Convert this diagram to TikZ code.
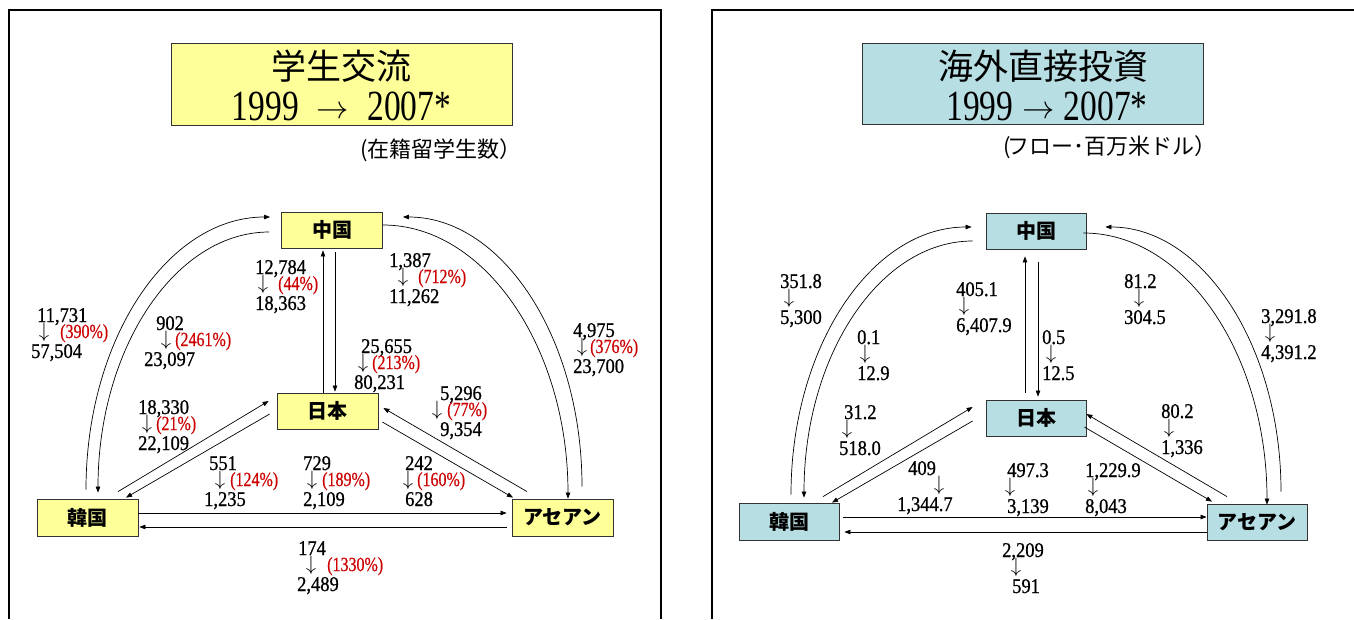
\documentclass[tikz,border=0pt]{standalone}
\usepackage{fontspec}
\usetikzlibrary{arrows.meta,calc}
\newfontfamily\jp{Noto Sans CJK JP}
\newfontfamily\numf[FakeStretch=0.88,FakeBold=0.8]{Liberation Serif}
\newfontfamily\pctf[FakeStretch=0.8,FakeBold=0.6]{Liberation Serif}
\newfontfamily\ttlf[FakeStretch=0.78]{Liberation Serif}
\definecolor{boxY}{RGB}{255,255,153}
\definecolor{boxT}{RGB}{183,222,226}
\definecolor{pctred}{RGB}{204,0,0}
% flow label with percentage
\newcommand\fl[9]{%
  \node[numtxt,anchor=base west] (#1t) at (#2,#3) {#4};
  \node[arrtxt] (#1a) at (#5,#3+10) {$\downarrow$};
  \node[pcttxt,anchor=base west] (#1p) at (#6,#3+16) {#7};
  \node[numtxt,anchor=base west] (#1b) at (#8,#3+36) {#9};
}
% flow label without percentage
\newcommand\fr[6]{%
  \node[numtxt,anchor=base west] (#1t) at (#2,#3) {#4};
  \node[arrtxt] (#1a) at (#5,#3+10.5) {$\downarrow$};
  \node[numtxt,anchor=base west] (#1b) at (#2,#3+36) {#6};
}
\newcommand\ttlarrow{\raisebox{1.5pt}{\scalebox{1.3}{$\rightarrow$}}}
\begin{document}
\begin{tikzpicture}[x=1pt,y=-1pt,
  frame/.style={line width=1.6pt,black},
  cbox/.style={draw=black!80,line width=0.8pt,minimum width=101pt,minimum height=36pt,inner sep=0pt,
     font=\jp\bfseries\fontsize{20}{24}\selectfont},
  ybox/.style={cbox,fill=boxY},
  tbox/.style={cbox,fill=boxT},
  ttlbox/.style={draw=black!80,line width=0.8pt,inner sep=0pt,minimum width=341pt,minimum height=82pt},
  ttljp/.style={inner sep=0pt,font=\jp\fontsize{35}{40}\selectfont},
  ttlnum/.style={inner sep=0pt,font=\ttlf\fontsize{43}{46}\selectfont},
  subt/.style={inner sep=0pt,font=\jp\fontsize{22}{26}\selectfont},
  arr/.style={-{Triangle[length=6pt,width=4.5pt]},line width=0.7pt},
  numtxt/.style={inner sep=0pt,font=\numf\fontsize{21}{21}\selectfont},
  pcttxt/.style={inner sep=0pt,text=pctred,font=\pctf\fontsize{20}{20}\selectfont},
  arrtxt/.style={inner sep=0pt,font=\fontsize{20.74}{20}\selectfont}]
\useasboundingbox (0,0) rectangle (1354,619);
\fill[white] (0,0) rectangle (1354,619);
% panel frames
\draw[frame] (9,619) -- (9,10) -- (661,10) -- (661,619);
\draw[frame] (712,619) -- (712,10) -- (1354,10);

% ===== left panel =====
\node[ttlbox,fill=boxY] (tL) at (341.5,84) {};
\node[ttljp] (tL1) at (341.5,66) {学生交流};
\node[ttlnum,anchor=base] (tL2) at (341.5,120) {1999\hspace{18pt}\ttlarrow\hspace{18pt}2007*};
\node[subt] (sL) at (441,150) {(在籍留学生数）};

\node[ybox] (cnL) at (332,230) {中国};
\node[ybox] (jpL) at (327.5,411) {日本};
\node[ybox,minimum height=37pt] (krL) at (87.5,517.5) {韓国};
\node[ybox,minimum height=37pt] (asL) at (562.5,517.5) {アセアン};

\draw[arr] ($(jpL.north)+(-4.5,0)$) -- ($(cnL.south)+(-9,2)$);
\draw[arr] ($(cnL.south)+(3,4)$) -- ($(jpL.north)+(7.5,-1)$);
\draw[arr] ($(krL.north)+(-1.5,-9)$) .. controls +(0,-151) and +(-102,0) .. ($(cnL.west)+(-11,-13)$);
\draw[arr] ($(cnL.west)+(-12,2)$) .. controls +(-94,0) and +(0,-144) .. ($(krL.north)+(10.5,-6)$);
\draw[arr] ($(asL.north)+(19.5,-12)$) .. controls +(0,-149) and +(99,0) .. ($(cnL.east)+(20,-13)$);
\draw[arr] ($(cnL.east)+(0,-5)$) .. controls +(102,0) and +(0,-151) .. ($(asL.north)+(5.5,0)$);
\draw[arr] ($(krL.north)+(30.5,-7)$) -- ($(jpL.west)+(-8,-10)$);
\draw[arr] ($(jpL.west)+(-7,3)$) -- ($(krL.north)+(38.5,-1)$);
\draw[arr] ($(jpL.east)+(4,11)$) -- ($(asL.north)+(-49.5,-1)$);
\draw[arr] ($(asL.north)+(-35.5,-7)$) -- ($(jpL.east)+(5,-3)$);
\draw[arr] ($(krL.east)+(0,-4.5)$) -- ($(asL.west)+(-5,-4.5)$);
\draw[arr] ($(asL.west)+(-5,9.5)$) -- ($(krL.east)+(1,9.5)$);

\fl{la}{37}{322}{11,731}{44}{60}{(390\%)}{31}{57,504}
\fl{lb}{156}{330}{902}{166}{175}{(2461\%)}{144}{23,097}
\fl{lc}{255}{274}{12,784}{263}{278}{(44\%)}{255}{18,363}
\fl{ld}{389}{267}{1,387}{403}{418}{(712\%)}{389}{11,262}
\fl{le}{573}{337}{4,975}{582}{590}{(376\%)}{573}{23,700}
\fl{lf}{361}{353}{25,655}{363}{372}{(213\%)}{354}{80,231}
\fl{lg}{440}{400}{5,296}{437}{447}{(77\%)}{440}{9,354}
\fl{lh}{138}{414}{18,330}{147}{156}{(21\%)}{138}{22,109}
\fl{li}{209}{470}{551}{220}{230}{(124\%)}{204}{1,235}
\fl{lj}{303}{470}{729}{312}{322}{(189\%)}{303}{2,109}
\fl{lk}{405}{470}{242}{408}{417}{(160\%)}{405}{628}
\fl{ll}{298}{555}{174}{311}{327}{(1330\%)}{297}{2,489}

% ===== right panel =====
\node[ttlbox,fill=boxT,minimum height=81pt] (tR) at (1032.5,83.5) {};
\node[ttljp] (tR1) at (1043,66) {海外直接投資};
\node[ttlnum,anchor=base] (tR2) at (1047,120) {1999\hspace{9pt}\ttlarrow\hspace{9pt}2007*};
\node[subt] (sR) at (1110,147) {(\kern-4ptフロー･百万米ドル）};

\node[tbox,minimum width=100pt] (cnR) at (1036,231) {中国};
\node[tbox,minimum width=100pt] (jpR) at (1036,418) {日本};
\node[tbox,minimum width=100pt,minimum height=37pt] (krR) at (789,521.5) {韓国};
\node[tbox,minimum width=100pt] (asR) at (1257,522) {アセアン};

\draw[arr] ($(jpR.north)+(-11,-7)$) -- ($(cnR.south)+(-11,7)$);
\draw[arr] ($(cnR.south)+(2,13)$) -- ($(jpR.north)+(2,-3)$);
\draw[arr] ($(krR.north)+(2,-8)$) .. controls +(0,-148) and +(-100,0) .. ($(cnR.west)+(-14,-4)$);
\draw[arr] ($(cnR.west)+(-13,10)$) .. controls +(-93,0) and +(0,-142) .. ($(krR.north)+(15,-5)$);
\draw[arr] ($(cnR.east)+(-3,2)$) .. controls +(102,0) and +(0,-150) .. ($(asR.north)+(10,1)$);
\draw[arr] ($(asR.north)+(24,-12)$) .. controls +(0,-146) and +(97,0) .. ($(cnR.east)+(19,-4)$);
\draw[arr] ($(krR.north)+(34,-6)$) -- ($(jpR.west)+(-13,-11)$);
\draw[arr] ($(jpR.west)+(-13,3)$) -- ($(krR.north)+(43,0)$);
\draw[arr] ($(jpR.east)+(-2,9)$) -- ($(asR.north)+(-45,-2)$);
\draw[arr] ($(asR.north)+(-30,-7)$) -- ($(jpR.east)+(0,-4)$);
\draw[arr] ($(krR.east)+(4,-4.5)$) -- ($(asR.west)+(0,-5)$);
\draw[arr] ($(asR.west)+(0,10)$) -- ($(krR.east)+(5,10.5)$);

\fr{ra}{780}{288}{351.8}{789}{5,300}
\fr{rb}{857}{344}{0.1}{865}{12.9}
\fr{rc}{956}{296}{405.1}{964}{6,407.9}
\fr{rd}{1124}{288}{81.2}{1139}{304.5}
\fr{re}{1261}{323}{3,291.8}{1270}{4,391.2}
\fr{rf}{1042}{344}{0.5}{1051}{12.5}
\node[numtxt,anchor=base west] (rgt) at (844,419) {31.2};
\node[arrtxt] (rga) at (847,429.5) {$\downarrow$};
\node[numtxt,anchor=base west] (rgb) at (839,455) {518.0};
\fr{rh}{1161}{418}{80.2}{1169}{1,336}
\node[numtxt,anchor=base west] (rit) at (908,475) {409};
\node[arrtxt] (ria) at (939,485.5) {$\downarrow$};
\node[numtxt,anchor=base west] (rib) at (897,511) {1,344.7};
\fr{rj}{1007}{477}{497.3}{1010}{3,139}
\fr{rk}{1085}{477}{1,229.9}{1093}{8,043}
\node[numtxt,anchor=base west] (rlt) at (1002,557) {2,209};
\node[arrtxt] (rla) at (1016,567.5) {$\downarrow$};
\node[numtxt,anchor=base west] (rlb) at (1012,593) {591};
\end{tikzpicture}
\end{document}
